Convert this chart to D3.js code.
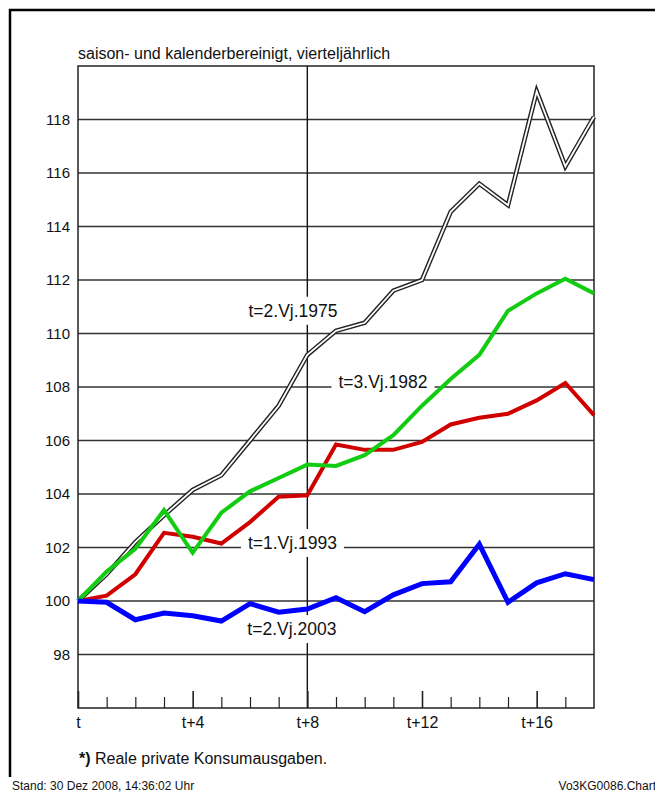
<!DOCTYPE html>
<html>
<head>
<meta charset="utf-8">
<script src="https://cdn.jsdelivr.net/npm/d3@7"></script>
<style>
  body { margin: 0; background: #fff; }
  svg { display: block; font-family: "Liberation Sans", Arial, Helvetica, sans-serif; }
</style>
</head>
<body>
<script>
// Quartale t .. t+18
var quarters = d3.range(0, 19);
// Index t = 100
var s1975 = [100, 101.0, 102.2, 103.2, 104.15, 104.7, 106.0, 107.3, 109.2, 110.1, 110.4, 111.6, 112.0, 114.55, 115.6, 114.8, 119.05, 116.25, 118.1];
var s1982 = [100, 101.1, 101.95, 103.4, 101.8, 103.3, 104.1, 104.6, 105.1, 105.05, 105.45, 106.2, 107.3, 108.3, 109.2, 110.85, 111.5, 112.05, 111.5];
var s1993 = [100, 100.2, 101.0, 102.55, 102.4, 102.15, 102.95, 103.9, 103.95, 105.85, 105.65, 105.65, 105.95, 106.6, 106.85, 107.0, 107.5, 108.15, 106.95];
var s2003 = [100, 99.95, 99.3, 99.55, 99.45, 99.25, 99.9, 99.58, 99.7, 100.12, 99.6, 100.23, 100.65, 100.72, 102.12, 99.95, 100.68, 101.02, 100.8];
var seriesNames = ["t=2.Vj.1975", "t=3.Vj.1982", "t=1.Vj.1993", "t=2.Vj.2003"];
var yTicks = d3.range(98, 119, 2);
var xLabels = ["t", "", "", "", "t+4", "", "", "", "t+8", "", "", "", "t+12", "", "", "", "t+16", "", ""];

var W = 655, H = 792;
var plot = {left: 78, right: 594, top: 66, bottom: 708};

var svg = d3.select("body").append("svg").attr("width", W).attr("height", H);

// Rahmen aussen (nur oben/links sichtbar)
svg.append("path")
    .attr("d", "M10,777V10H" + (W + 5))
    .attr("fill", "none").attr("stroke", "#000").attr("stroke-width", 2.5);

var x = d3.scaleLinear().domain([0, 18]).range([plot.left, plot.right]);
var y = d3.scaleLinear().domain([96, 120]).range([plot.bottom, plot.top]);

svg.append("text")
    .attr("x", plot.left).attr("y", 53).attr("dy", "0.35em")
    .attr("font-size", 16).attr("fill", "#111")
    .text("saison- und kalenderbereinigt, vierteljährlich");

// Gitterlinien
svg.append("g").selectAll("line").data(yTicks).join("line")
    .attr("x1", plot.left).attr("x2", plot.right)
    .attr("y1", function(d){ return y(d); }).attr("y2", function(d){ return y(d); })
    .attr("stroke", "#333").attr("stroke-width", 1.4);

svg.append("line")
    .attr("x1", x(8)).attr("x2", x(8)).attr("y1", plot.top).attr("y2", plot.bottom)
    .attr("stroke", "#111").attr("stroke-width", 1.4);

svg.append("rect")
    .attr("x", plot.left).attr("y", plot.top)
    .attr("width", plot.right - plot.left).attr("height", plot.bottom - plot.top)
    .attr("fill", "none").attr("stroke", "#222").attr("stroke-width", 1.5);

// Achsen
var yAxis = svg.append("g").attr("transform", "translate(" + plot.left + ",0)")
    .call(d3.axisLeft(y).tickValues(yTicks).tickSize(0).tickPadding(8).tickFormat(d3.format("d")));
yAxis.select(".domain").remove();
yAxis.selectAll("text").attr("font-size", 15).attr("fill", "#111").attr("font-family", null);

var xAxis = svg.append("g").attr("transform", "translate(0," + plot.bottom + ")")
    .call(d3.axisBottom(x).tickValues(quarters.slice(0, 18)).tickSize(-11).tickPadding(9)
        .tickFormat(function(d){ return xLabels[d]; }));
xAxis.select(".domain").remove();
xAxis.selectAll("text").attr("font-size", 16).attr("fill", "#111").attr("font-family", null);
xAxis.selectAll(".tick line").attr("stroke", "#222").attr("stroke-width", 1.2);
xAxis.selectAll(".tick").filter(function(d){ return d % 4 === 0; })
    .select("line").attr("y2", -17).attr("stroke-width", 1.6);

// Beschriftungen der Reihen (mit weissem Hintergrund)
var labelAt = [[7.5, 110.85], [10.64, 108.2], [7.48, 102.17], [7.46, 98.95]];
var lbl = svg.append("g").selectAll("g").data(seriesNames).join("g")
    .attr("transform", function(d, i){ return "translate(" + x(labelAt[i][0]) + "," + y(labelAt[i][1]) + ")"; });
lbl.append("rect").attr("fill", "#fff");
lbl.append("text")
    .attr("text-anchor", "middle").attr("dy", "0.35em")
    .attr("font-size", 17.5).attr("fill", "#111")
    .text(function(d){ return d; });
lbl.each(function(){
    var g = d3.select(this);
    var bb = g.select("text").node().getBBox();
    g.select("rect").attr("x", bb.x - 7).attr("width", bb.width + 14).attr("y", -14).attr("height", 28);
});

// Linien
var line = d3.line().x(function(d, i){ return x(quarters[i]); }).y(function(d){ return y(d); });
var lines = svg.append("g").attr("fill", "none").attr("stroke-linejoin", "miter");
lines.append("path").datum(s1975).attr("d", line).attr("stroke", "#222").attr("stroke-width", 4.6);
lines.append("path").datum(s1975).attr("d", line).attr("stroke", "#fff").attr("stroke-width", 1.8);
lines.append("path").datum(s1993).attr("d", line).attr("stroke", "#d00000").attr("stroke-width", 4);
lines.append("path").datum(s1982).attr("d", line).attr("stroke", "#11cc11").attr("stroke-width", 4);
lines.append("path").datum(s2003).attr("d", line).attr("stroke", "#0000ff").attr("stroke-width", 5);

// Fussnoten
var fn = svg.append("text").attr("x", plot.left + 1).attr("y", 758).attr("dy", "0.35em")
    .attr("font-size", 16).attr("fill", "#111");
fn.append("tspan").attr("font-weight", "bold").text("*)");
fn.append("tspan").text(" Reale private Konsumausgaben.");

svg.append("text").attr("x", 12).attr("y", 786).attr("dy", "0.35em")
    .attr("font-size", 12).attr("fill", "#111")
    .text("Stand: 30 Dez 2008, 14:36:02 Uhr");
svg.append("text").attr("x", 656).attr("y", 786).attr("dy", "0.35em")
    .attr("text-anchor", "end").attr("font-size", 12).attr("fill", "#111")
    .text("Vo3KG0086.Chart");
</script>
</body>
</html>
